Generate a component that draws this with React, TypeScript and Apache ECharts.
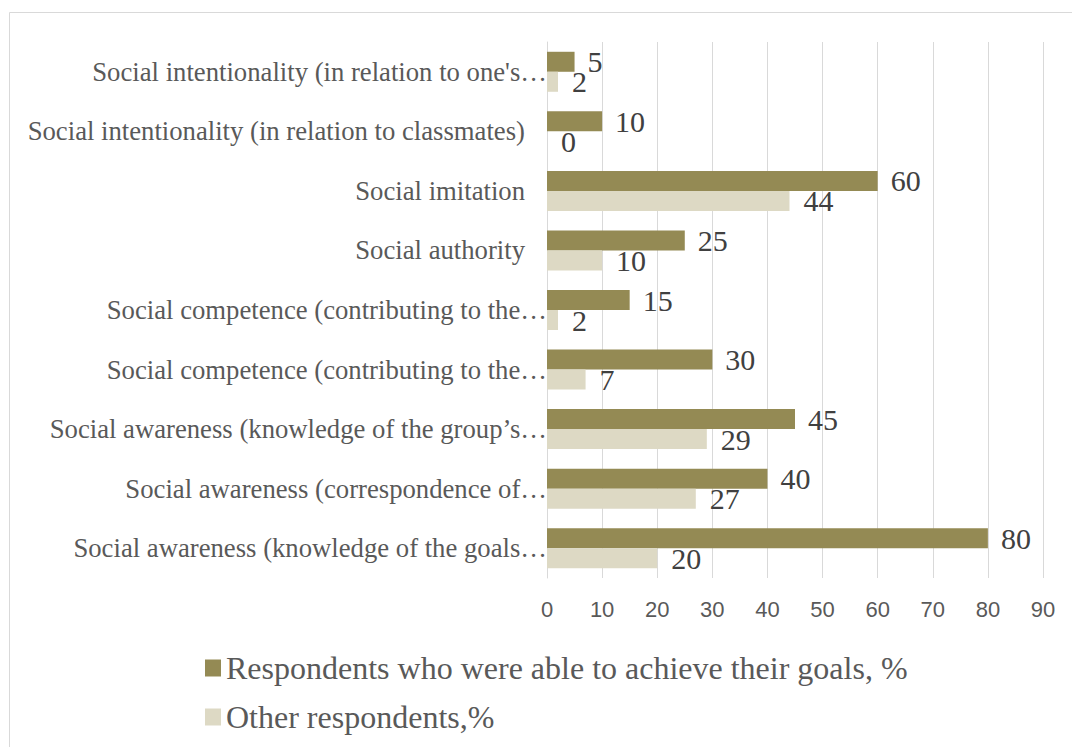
import React, { useEffect, useRef } from "react";
import * as echarts from "echarts";

const categories = [
  "Social intentionality (in relation to one's…",
  "Social intentionality (in relation to classmates)",
  "Social imitation",
  "Social authority",
  "Social competence (contributing to the…",
  "Social competence (contributing to the…",
  "Social awareness (knowledge of the group’s…",
  "Social awareness (correspondence of…",
  "Social awareness (knowledge of the goals…",
];
const achievedValues = [5, 10, 60, 25, 15, 30, 45, 40, 80];
const otherValues = [2, 0, 44, 10, 2, 7, 29, 27, 20];
const seriesNames = [
  "Respondents who were able to achieve their goals, %",
  "Other respondents,%",
];
const xTicks = [0, 10, 20, 30, 40, 50, 60, 70, 80, 90];

const serif = "'Liberation Serif', 'Times New Roman', serif";
const catFont = 26.7;

export default function App() {
  const ref = useRef<HTMLDivElement>(null);
  useEffect(() => {
    if (!ref.current) return;
    const chart = echarts.init(ref.current, null, { renderer: "svg" });
    chart.setOption({
      animation: false,
      backgroundColor: "#ffffff",
      graphic: [
        {
          type: "rect",
          shape: { x: 9.5, y: 12.5, width: 1100, height: 800 },
          style: { fill: "none", stroke: "#D9D9D9", lineWidth: 1 },
          silent: true,
        },
      ],
      grid: { left: 547, right: 29, top: 42, bottom: 169, containLabel: false },
      xAxis: {
        type: "value",
        min: xTicks[0],
        max: xTicks[xTicks.length - 1],
        interval: 10,
        axisLine: { show: false },
        axisTick: { show: false },
        splitLine: { show: true, lineStyle: { color: "#D9D9D9", width: 1 } },
        axisLabel: {
          margin: 20,
          color: "#595959",
          fontSize: 22,
          fontFamily: "'Liberation Sans', Arial, sans-serif",
        },
      },
      yAxis: {
        type: "category",
        inverse: true,
        data: categories,
        axisLine: { show: true, lineStyle: { color: "#D9D9D9", width: 1 } },
        axisTick: { show: false },
        axisLabel: {
          margin: 0,
          color: "#595959",
          fontSize: catFont,
          fontFamily: serif,
          formatter: (v: string) =>
            v.endsWith("…") ? "{t|" + v + "}" : "{n|" + v + "}",
          rich: {
            t: { fontSize: catFont, fontFamily: serif, color: "#595959" },
            n: {
              fontSize: catFont,
              fontFamily: serif,
              color: "#595959",
              padding: [0, 22, 0, 0],
            },
          },
        },
      },
      legend: {
        orient: "vertical",
        left: 200,
        top: 647,
        itemWidth: 16,
        itemHeight: 17,
        itemGap: 17,
        icon: "rect",
        textStyle: {
          fontSize: 32,
          fontFamily: serif,
          color: "#595959",
        },
        data: seriesNames,
      },
      series: [
        {
          name: seriesNames[0],
          type: "bar",
          data: achievedValues,
          barWidth: 20,
          barGap: "0%",
          itemStyle: { color: "#948A54" },
          label: {
            show: true,
            position: "right",
            distance: 13,
            fontSize: 30,
            fontFamily: serif,
            color: "#404040",
          },
        },
        {
          name: seriesNames[1],
          type: "bar",
          data: otherValues,
          barWidth: 20,
          barGap: "0%",
          itemStyle: { color: "#DDD9C4" },
          label: {
            show: true,
            position: "right",
            distance: 14,
            fontSize: 30,
            fontFamily: serif,
            color: "#404040",
          },
        },
      ],
    });
    return () => chart.dispose();
  }, []);
  return (
    <div
      ref={ref}
      style={{ position: "absolute", left: 0, top: 0, width: 1072, height: 747 }}
    />
  );
}
